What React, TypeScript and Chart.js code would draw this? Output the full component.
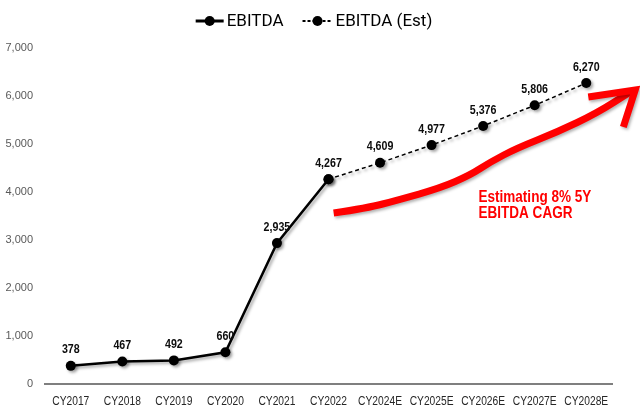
import React, { useEffect, useRef } from 'react';
import { Chart, registerables } from 'chart.js';

Chart.register(...registerables);

const CATEGORIES = ['CY2017', 'CY2018', 'CY2019', 'CY2020', 'CY2021', 'CY2022', 'CY2024E', 'CY2025E', 'CY2026E', 'CY2027E', 'CY2028E'];
const EBITDA_ACTUAL: (number | null)[] = [378, 467, 492, 660, 2935, 4267, null, null, null, null, null];
const EBITDA_EST: (number | null)[] = [null, null, null, null, null, 4267, 4609, 4977, 5376, 5806, 6270];
const SERIES_NAMES = ['EBITDA', 'EBITDA (Est)'];
const Y_MIN = 0;
const Y_MAX = 7000;
const Y_STEP = 1000;

// red "growth" arrow, in data space (category index, value)
const ARROW_SHAFT_X = [5.1, 5.76, 6.34, 7.17, 7.75, 8.14, 8.66, 9.44, 10.21, 10.85];
const ARROW_SHAFT_Y = [3562, 3667, 3833, 4083, 4354, 4625, 4917, 5250, 5646, 6083];
const ARROW_HEAD_X = [10.04, 10.95, 10.72];
const ARROW_HEAD_Y = [5979, 6125, 5354];
const NOTE_LINES = ['Estimating 8% 5Y', 'EBITDA CAGR'];
const NOTE_X = 7.91;
const NOTE_Y = [3800, 3465];

const SANS = '"Liberation Sans", Arial, sans-serif';
const CONDENSE = 0.82;

function condensedText(ctx: CanvasRenderingContext2D, text: string, x: number, y: number, align: 'left' | 'center') {
  ctx.save();
  ctx.translate(x, y);
  ctx.scale(CONDENSE, 1);
  ctx.textAlign = align;
  ctx.fillText(text, 0, 0);
  ctx.restore();
}

const shadowPlugin = {
  id: 'shadowPlugin',
  beforeDatasetsDraw(chart: any) {
    const ctx = chart.ctx;
    ctx.save();
    ctx.shadowColor = 'rgba(0,0,0,0.35)';
    ctx.shadowBlur = 3;
    ctx.shadowOffsetX = 2;
    ctx.shadowOffsetY = 2;
  },
  afterDatasetsDraw(chart: any) {
    chart.ctx.restore();
  },
};

const xLabelsPlugin = {
  id: 'xLabels',
  afterDraw(chart: any) {
    const ctx = chart.ctx;
    const xs = chart.scales.x;
    ctx.save();
    ctx.font = `12.5px ${SANS}`;
    ctx.fillStyle = '#262626';
    ctx.textBaseline = 'alphabetic';
    chart.data.labels.forEach((lab: string, i: number) => {
      condensedText(ctx, lab, xs.getPixelForTick(i), chart.chartArea.bottom + 21, 'center');
    });
    ctx.restore();
  },
};

const labelsPlugin = {
  id: 'valueLabels',
  afterDatasetsDraw(chart: any) {
    const ctx = chart.ctx;
    const done = new Set<number>();
    ctx.save();
    ctx.font = `bold 13px ${SANS}`;
    ctx.fillStyle = '#0d0d0d';
    ctx.textBaseline = 'middle';
    chart.data.datasets.forEach((ds: any, di: number) => {
      const meta = chart.getDatasetMeta(di);
      meta.data.forEach((pt: any, i: number) => {
        const v = ds.data[i];
        if (v === null || v === undefined || done.has(i)) return;
        done.add(i);
        condensedText(ctx, Number(v).toLocaleString('en-US'), pt.x, pt.y - 16, 'center');
      });
    });
    ctx.restore();
  },
};

const arrowPlugin = {
  id: 'arrowNote',
  afterDatasetsDraw(chart: any) {
    const ctx = chart.ctx;
    const xs = chart.scales.x;
    const ys = chart.scales.y;
    const px = (v: number) => xs.getPixelForValue(v);
    const py = (v: number) => ys.getPixelForValue(v);
    ctx.save();
    ctx.shadowColor = 'rgba(0,0,0,0.3)';
    ctx.shadowBlur = 3;
    ctx.shadowOffsetX = 1.5;
    ctx.shadowOffsetY = 2;
    ctx.strokeStyle = '#ff0000';
    ctx.lineWidth = 7;
    ctx.lineCap = 'butt';
    ctx.lineJoin = 'round';
    const pts = ARROW_SHAFT_X.map((x, i) => [px(x), py(ARROW_SHAFT_Y[i])]);
    ctx.beginPath();
    ctx.moveTo(pts[0][0], pts[0][1]);
    for (let i = 1; i < pts.length - 1; i++) {
      const mx = (pts[i][0] + pts[i + 1][0]) / 2;
      const my = (pts[i][1] + pts[i + 1][1]) / 2;
      ctx.quadraticCurveTo(pts[i][0], pts[i][1], mx, my);
    }
    ctx.lineTo(pts[pts.length - 1][0], pts[pts.length - 1][1]);
    ctx.stroke();
    ctx.beginPath();
    ctx.lineJoin = 'miter';
    ARROW_HEAD_X.forEach((x, i) => {
      const X = px(x);
      const Y = py(ARROW_HEAD_Y[i]);
      if (i === 0) ctx.moveTo(X, Y);
      else ctx.lineTo(X, Y);
    });
    ctx.stroke();
    ctx.shadowColor = 'transparent';
    ctx.fillStyle = '#ff0000';
    ctx.font = `bold 16.5px ${SANS}`;
    ctx.textBaseline = 'alphabetic';
    NOTE_LINES.forEach((t, i) => condensedText(ctx, t, px(NOTE_X), py(NOTE_Y[i]), 'left'));
    ctx.restore();
  },
};

const legendPlugin = {
  id: 'lineLegend',
  afterDraw(chart: any) {
    const ctx = chart.ctx;
    ctx.save();
    ctx.font = '17px Roboto, "Noto Sans", sans-serif';
    ctx.textBaseline = 'middle';
    ctx.textAlign = 'left';
    const sampleW = [28, 30];
    const gapText = 3;
    const gapItem = 19;
    const widths = SERIES_NAMES.map((n) => ctx.measureText(n).width);
    const total = sampleW[0] + gapText + widths[0] + gapItem + sampleW[1] + gapText + widths[1];
    let x = chart.width / 2 - 6 - total / 2;
    const y = 21;
    SERIES_NAMES.forEach((name, i) => {
      const ds = chart.data.datasets[i];
      ctx.save();
      ctx.strokeStyle = '#000';
      ctx.lineWidth = i === 0 ? 3 : 2;
      ctx.setLineDash(i === 0 ? [] : [3, 2]);
      ctx.beginPath();
      ctx.moveTo(x, y);
      ctx.lineTo(x + sampleW[i], y);
      ctx.stroke();
      ctx.setLineDash([]);
      ctx.fillStyle = ds.pointBackgroundColor;
      ctx.beginPath();
      ctx.arc(x + sampleW[i] / 2, y, 5, 0, Math.PI * 2);
      ctx.fill();
      ctx.restore();
      ctx.fillStyle = '#000';
      ctx.fillText(name, x + sampleW[i] + gapText, y + 1);
      x += sampleW[i] + gapText + widths[i] + gapItem;
    });
    ctx.restore();
  },
};

export default function App() {
  const ref = useRef<HTMLCanvasElement | null>(null);
  useEffect(() => {
    if (!ref.current) return;
    const chart = new Chart(ref.current, {
      type: 'line',
      data: {
        labels: CATEGORIES,
        datasets: [
          {
            label: SERIES_NAMES[0],
            data: EBITDA_ACTUAL,
            borderColor: '#000',
            borderWidth: 2.5,
            pointRadius: 5,
            pointBackgroundColor: '#000',
            pointBorderColor: '#000',
            pointBorderWidth: 0,
            tension: 0,
            spanGaps: false,
          },
          {
            label: SERIES_NAMES[1],
            data: EBITDA_EST,
            borderColor: '#000',
            borderWidth: 1.5,
            borderDash: [4, 3],
            pointRadius: 5,
            pointBackgroundColor: '#000',
            pointBorderColor: '#000',
            pointBorderWidth: 0,
            tension: 0,
          },
        ],
      },
      options: {
        animation: false,
        responsive: true,
        maintainAspectRatio: false,
        layout: { padding: { top: 48, right: 28, left: 0, bottom: 0 } },
        plugins: {
          legend: { display: false },
          tooltip: { enabled: false },
        },
        scales: {
          x: {
            offset: true,
            grid: { display: false, drawTicks: false },
            border: { display: true, color: '#7f7f7f', width: 2 },
            ticks: { display: false, autoSkip: false, maxRotation: 0 },
            afterFit(scale: any) {
              scale.height = 30;
            },
          },
          y: {
            min: Y_MIN,
            max: Y_MAX,
            grid: { display: false, drawTicks: false },
            border: { display: false },
            ticks: {
              stepSize: Y_STEP,
              color: '#595959',
              font: { family: SANS, size: 11 },
              padding: 12,
              callback: (v: any) => Number(v).toLocaleString('en-US'),
            },
            afterFit(scale: any) {
              scale.width = 45;
            },
          },
        },
      },
      plugins: [shadowPlugin, labelsPlugin, arrowPlugin, xLabelsPlugin, legendPlugin],
    });
    return () => chart.destroy();
  }, []);
  return (
    <div style={{ position: 'fixed', left: 0, top: 0, width: 640, height: 414, background: '#fff' }}>
      <canvas ref={ref} />
    </div>
  );
}
